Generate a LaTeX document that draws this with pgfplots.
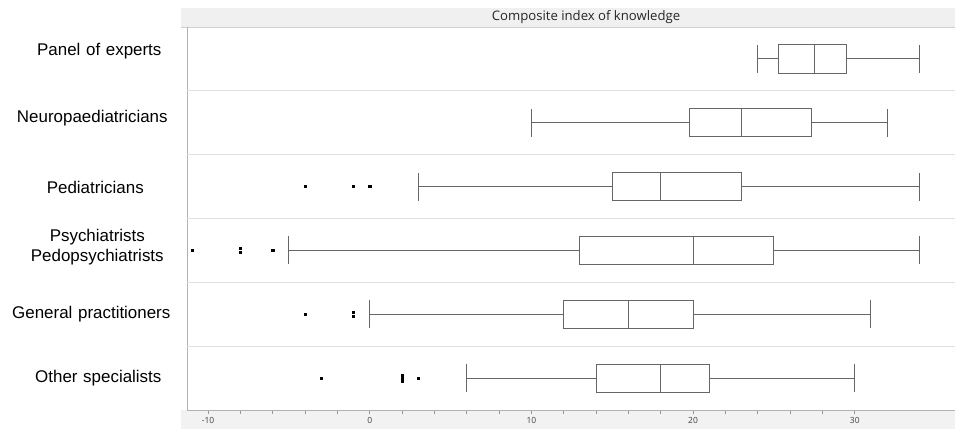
\documentclass[border=0pt]{standalone}
\usepackage{pgfplots}
\pgfplotsset{compat=1.18}
\usepgfplotslibrary{statistics}
\usepackage{fontspec}
\setmainfont{Liberation Sans}
\newfontfamily\segoe{Open Sans}
\begin{document}
\begin{tikzpicture}[x=1bp,y=1bp]
\path[use as bounding box] (0,0) rectangle (955,429);
\fill[black!6] (181,402) rectangle (955,421);
\fill[black!5] (181,0) rectangle (955,19);
\draw[black!18, line width=0.8bp] (181,402) -- (955,402);
\node[font=\segoe\fontsize{13.2}{15}\selectfont, text=black!85] at (586,411.5) {Composite index of knowledge};
\begin{axis}[
  at={(187bp,19bp)}, anchor=south west, scale only axis,
  width=768bp, height=383bp,
  xmin=-11.3, xmax=36.2, ymin=0.5, ymax=6.5,
  axis x line*=bottom, axis y line*=left,
  axis line style={black!30, line width=0.8bp},
  xtick={-10,0,10,20,30}, minor x tick num=4,
  tick align=outside, major tick length=3.5bp, minor tick length=3.5bp,
  xtick style={black!40, line width=0.6bp},
  /pgf/number format/assume math mode=true,
  xticklabel style={font=\segoe\fontsize{8.5}{10}\selectfont, text=black!75},
  ytick={1,2,3.05,3.98,5.08,6.12},
  yticklabels={{\hspace*{14bp}Other specialists}, General practitioners, {\hspace*{12bp}Psychiatrists\\\hspace*{12bp}Pedopsychiatrists}, {\hspace*{8bp}Pediatricians}, {\hspace*{2bp}Neuropaediatricians}, {\hspace*{16bp}Panel of experts}},
  yticklabel style={font=\fontsize{17}{20}\selectfont, text width=166bp, align=center, inner sep=0pt, anchor=east, xshift=-9bp},
  ytick style={draw=none},
  extra y ticks={1.5,2.5,3.5,4.5,5.5},
  extra y tick labels={},
  extra y tick style={grid=major, tick style={draw=none}},
  major grid style={black!12, line width=0.9bp},
  boxplot/draw direction=x,
  boxplot/box extend=0.44,
  boxplot/whisker extend=0.44,
]
\addplot[black!60, line width=0.9bp, boxplot prepared={lower whisker=24, lower quartile=25.25, median=27.5, upper quartile=29.5, upper whisker=34, draw position=6}] coordinates {};
\addplot[black!60, line width=0.9bp, boxplot prepared={lower whisker=10, lower quartile=19.75, median=23, upper quartile=27.3, upper whisker=32, draw position=5}] coordinates {};
\addplot[black!60, line width=0.9bp, boxplot prepared={lower whisker=3, lower quartile=15, median=18, upper quartile=23, upper whisker=34, draw position=4}] coordinates {};
\addplot[black!60, line width=0.9bp, boxplot prepared={lower whisker=-5, lower quartile=13, median=20, upper quartile=25, upper whisker=34, draw position=3}] coordinates {};
\addplot[black!60, line width=0.9bp, boxplot prepared={lower whisker=0, lower quartile=12, median=16, upper quartile=20, upper whisker=31, draw position=2}] coordinates {};
\addplot[black!60, line width=0.9bp, boxplot prepared={lower whisker=6, lower quartile=14, median=18, upper quartile=21, upper whisker=30, draw position=1}] coordinates {};
\addplot[only marks, mark=square*, mark size=1.1bp, black] coordinates {
 (-4,4) (-1,4) (0,4)
 (-11,3) (-8,2.97) (-8,3.03) (-6,3)
 (-4,2) (-1,1.97) (-1,2.03)
 (-3,1) (2,0.96) (2,1) (2,1.04) (3,1)
};
\end{axis}
\end{tikzpicture}
\end{document}
